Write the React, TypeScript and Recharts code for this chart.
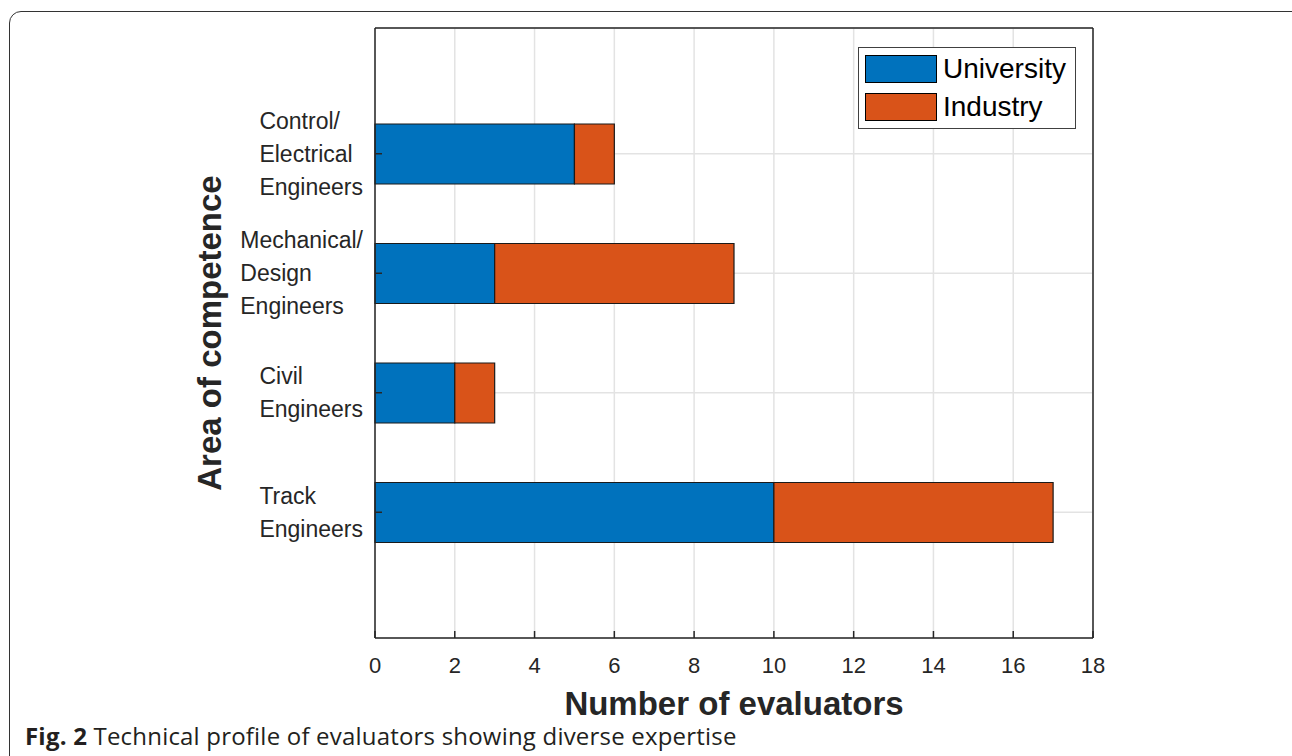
import { BarChart, Bar, XAxis, YAxis, CartesianGrid, Legend, Label } from 'recharts'

const categories = ['Control/\nElectrical\nEngineers', 'Mechanical/\nDesign\nEngineers', 'Civil\nEngineers', 'Track\nEngineers']
const university = [5, 3, 2, 10]
const industry = [1, 6, 1, 7]
const xTicks = [0, 2, 4, 6, 8, 10, 12, 14, 16, 18]
const seriesNames = ['University', 'Industry']
const seriesColors = ['#0072BD', '#D95319']

const data = categories.map((area, i) => ({ area, university: university[i], industry: industry[i] }))

const FONT = '"Liberation Sans", Arial, Helvetica, sans-serif'
const AXIS = '#262626'

let ctx: CanvasRenderingContext2D | null = null
function textWidth(s: string, size: number) {
  if (!ctx) ctx = document.createElement('canvas').getContext('2d')
  if (!ctx) return s.length * size * 0.5
  ctx.font = `${size}px "Liberation Sans", Arial, sans-serif`
  return ctx.measureText(s).width
}

// multi-line category label, lines left-aligned, block right-aligned at the tick
function AreaTick(props: any) {
  const { x, y, payload } = props
  const lines = String(payload.value).split('\n')
  const size = 23
  const lh = 33
  const w = Math.max(...lines.map(l => textWidth(l, size)))
  const first = y + 8 - ((lines.length - 1) * lh) / 2
  return (
    <text x={x - w} y={first} fill={AXIS} fontSize={size} fontFamily={FONT}>
      {lines.map((l, i) => (
        <tspan key={i} x={x - w} y={first + i * lh}>{l}</tspan>
      ))}
    </text>
  )
}

function LegendBox() {
  return (
    <div style={{
      width: 218, height: 82, boxSizing: 'border-box', border: '1px solid #404040', background: '#fff',
      padding: '7px 6px', display: 'flex', flexDirection: 'column', gap: 10, fontFamily: FONT,
    }}>
      {seriesNames.map((n, i) => (
        <div key={n} style={{ display: 'flex', alignItems: 'center', height: 28 }}>
          <div style={{ width: 72, height: 28, boxSizing: 'border-box', border: '1px solid #000', background: seriesColors[i], marginRight: 6 }} />
          <span style={{ fontSize: 28, lineHeight: '28px', color: '#000' }}>{n}</span>
        </div>
      ))}
    </div>
  )
}

export default function App() {
  return (
    <div style={{ position: 'absolute', left: 0, top: 0, width: 1292, height: 756, overflow: 'hidden', background: '#fff' }}>
      <div style={{ position: 'absolute', left: 9, top: 11, width: 1300, height: 800, border: '1.5px solid #333', borderRadius: 12 }} />
      <BarChart
        width={1292}
        height={756}
        data={data}
        layout="vertical"
        margin={{ top: 27, right: 198, left: 205, bottom: 38 }}
        style={{ position: 'absolute', left: 0, top: 0 }}
      >
        <CartesianGrid stroke="#e3e3e3" strokeWidth={1.5} />
        <XAxis
          type="number"
          domain={[0, 18]}
          ticks={xTicks}
          height={80}
          axisLine={{ stroke: AXIS, strokeWidth: 1.5 }}
          tickLine={{ stroke: AXIS, strokeWidth: 1.5 }}
          tickSize={-7}
          tickMargin={26}
          tick={{ fill: AXIS, fontSize: 22, fontFamily: FONT }}
        >
          <Label value="Number of evaluators" position="insideBottom" offset={3}
            style={{ fontSize: 33, fontWeight: 'bold', fill: AXIS, fontFamily: FONT }} />
        </XAxis>
        <XAxis
          xAxisId="top"
          orientation="top"
          type="number"
          domain={[0, 18]}
          ticks={xTicks}
          height={1}
          axisLine={{ stroke: AXIS, strokeWidth: 1.5 }}
          tickLine={{ stroke: AXIS, strokeWidth: 1.5 }}
          tickSize={-7}
          tick={false}
        />
        <YAxis
          type="category"
          dataKey="area"
          width={170}
          padding={{ top: 66, bottom: 66 }}
          axisLine={{ stroke: AXIS, strokeWidth: 1.5 }}
          tickLine={{ stroke: AXIS, strokeWidth: 1.5 }}
          tickSize={-7}
          tickMargin={19}
          tick={<AreaTick />}
          interval={0}
        >
          <Label value="Area of competence" angle={-90} position="insideLeft" offset={4}
            style={{ textAnchor: 'middle', fontSize: 33, fontWeight: 'bold', fill: AXIS, fontFamily: FONT }} />
        </YAxis>
        <YAxis
          yAxisId="right"
          orientation="right"
          type="category"
          dataKey="area"
          width={1}
          padding={{ top: 66, bottom: 66 }}
          axisLine={{ stroke: AXIS, strokeWidth: 1.5 }}
          tickLine={{ stroke: AXIS, strokeWidth: 1.5 }}
          tickSize={-7}
          tick={false}
          interval={0}
        />
        <Legend
          layout="horizontal"
          verticalAlign="middle"
          align="center"
          content={() => <LegendBox />}
          wrapperStyle={{ left: 858, top: 47, width: 218, height: 82 }}
        />
        <Bar dataKey="university" name={seriesNames[0]} stackId="a" fill={seriesColors[0]} stroke="#1a1a1a" strokeWidth={1.2} barSize={60} isAnimationActive={false} />
        <Bar dataKey="industry" name={seriesNames[1]} stackId="a" fill={seriesColors[1]} stroke="#1a1a1a" strokeWidth={1.2} barSize={60} isAnimationActive={false} />
      </BarChart>
      <div style={{ position: 'absolute', left: 25, top: 722, fontFamily: '"Open Sans", sans-serif', fontSize: 24, lineHeight: '28px', letterSpacing: 0.2, color: '#231f20', whiteSpace: 'nowrap' }}>
        <b>Fig. 2</b> Technical profile of evaluators showing diverse expertise
      </div>
    </div>
  )
}
